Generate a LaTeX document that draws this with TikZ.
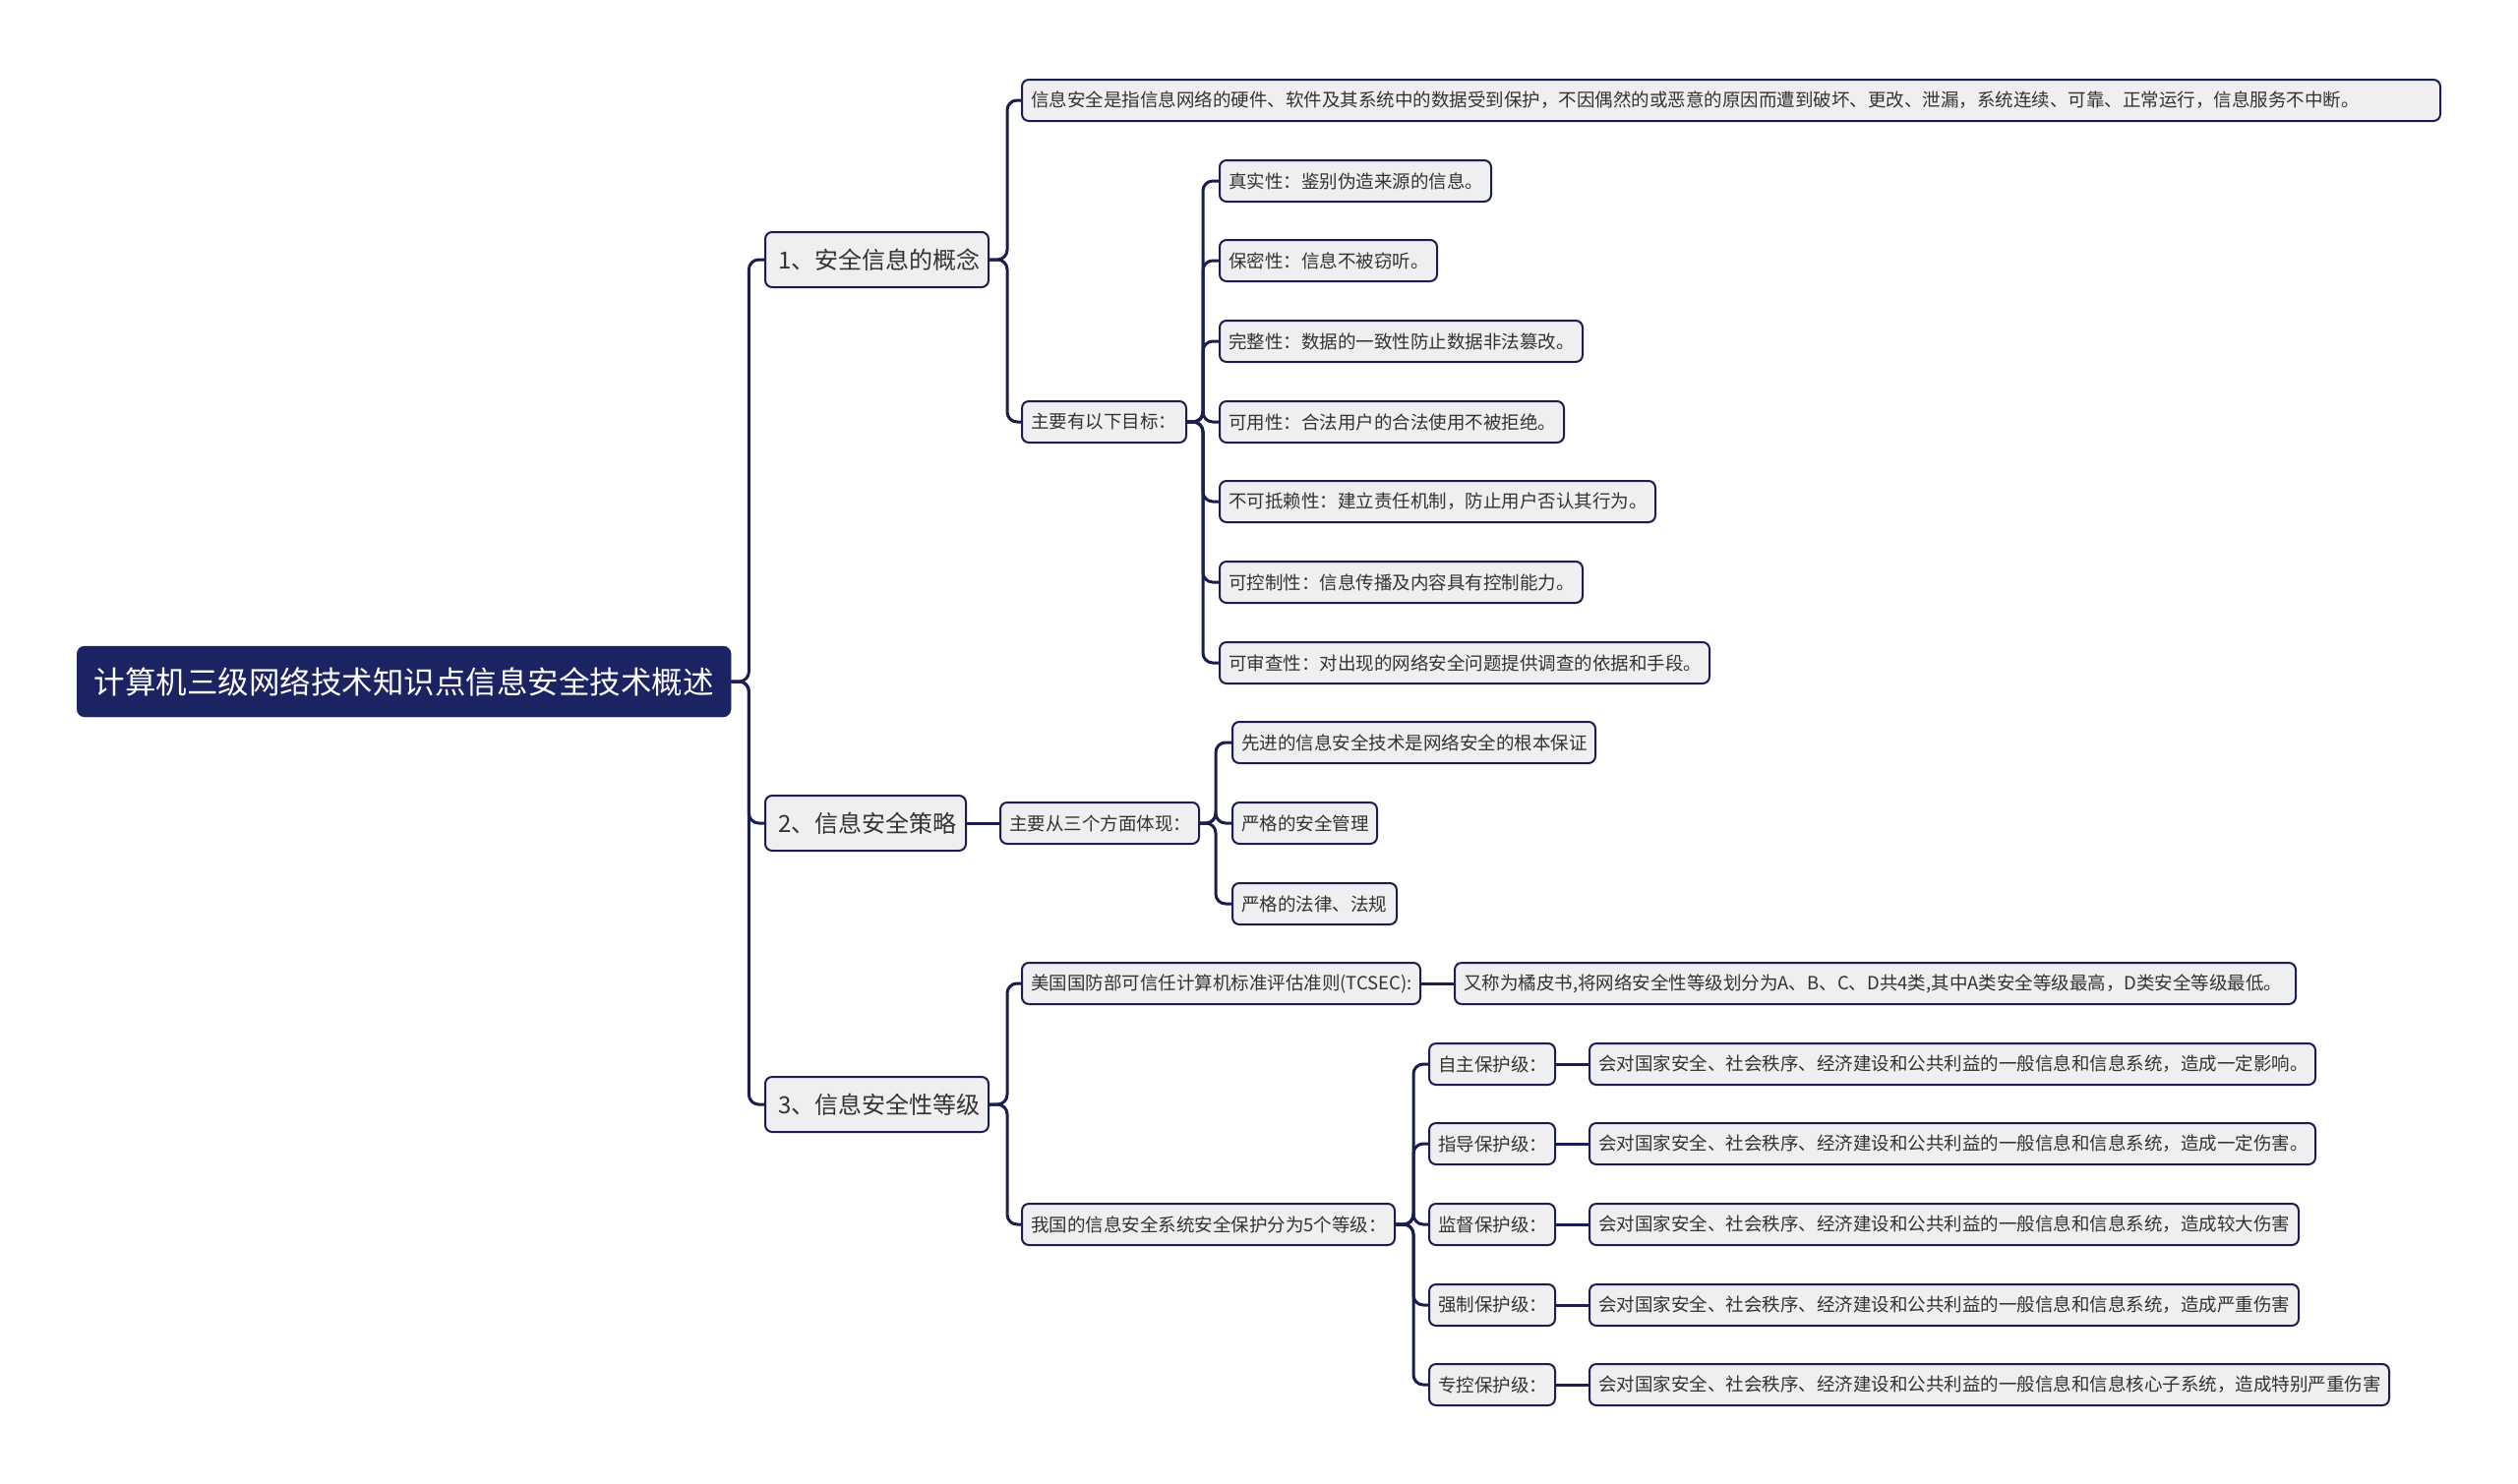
\documentclass[tikz,border=0pt]{standalone}
\usepackage{fontspec}
\setmainfont{Noto Sans CJK SC}
\definecolor{lc}{HTML}{1B1F4F}
\definecolor{rootfill}{HTML}{1C2363}
\definecolor{boxfill}{HTML}{EFEFF1}
\definecolor{txt}{HTML}{333333}
\newcommand\mybx[2]{\makebox[#1pt][l]{#2}}
\tikzset{
  conn/.style={draw=lc, line width=3pt, rounded corners=10pt},
  basebox/.style={draw=lc, line width=2pt, fill=boxfill, rounded corners=7pt, text=txt, anchor=west, inner ysep=0pt},
  leaf/.style={basebox, font=\fontsize{18.5}{20}\selectfont, minimum height=42pt, inner xsep=9pt},
  topic/.style={basebox, font=\fontsize{24}{26}\selectfont, minimum height=56pt, inner xsep=13pt},
  rootbox/.style={fill=rootfill, draw=rootfill, rounded corners=8pt, text=white, font=\fontsize{31.5}{34}\selectfont, minimum width=665pt, minimum height=72pt, anchor=west, inner sep=0pt}
}
\begin{document}
\begin{tikzpicture}[x=1pt,y=-1pt]
\useasboundingbox[fill=white] (0,0) rectangle (2560,1508);

\node[rootbox] (root) at (78,693) {计算机三级网络技术知识点信息安全技术概述};

\node[topic] (t1) at (777,264) {\mybx{201}{1、安全信息的概念}};
\node[topic] (t2) at (777,837) {\mybx{178}{2、信息安全策略}};
\node[topic] (t3) at (777,1123) {\mybx{201}{3、信息安全性等级}};

% branch 1
\node[leaf] (d1) at (1038,102) {\mybx{1424}{信息安全是指信息网络的硬件、软件及其系统中的数据受到保护，不因偶然的或恶意的原因而遭到破坏、更改、泄漏，系统连续、可靠、正常运行，信息服务不中断。}};
\node[leaf] (g0) at (1038,429) {\mybx{149}{主要有以下目标：}};
\node[leaf] (g1) at (1239,184) {\mybx{258}{真实性：鉴别伪造来源的信息。}};
\node[leaf] (g2) at (1239,265) {\mybx{203}{保密性：信息不被窃听。}};
\node[leaf] (g3) at (1239,347) {\mybx{351}{完整性：数据的一致性防止数据非法篡改。}};
\node[leaf] (g4) at (1239,429) {\mybx{332}{可用性：合法用户的合法使用不被拒绝。}};
\node[leaf] (g5) at (1239,510) {\mybx{425}{不可抵赖性：建立责任机制，防止用户否认其行为。}};
\node[leaf] (g6) at (1239,592) {\mybx{351}{可控制性：信息传播及内容具有控制能力。}};
\node[leaf] (g7) at (1239,674) {\mybx{480}{可审查性：对出现的网络安全问题提供调查的依据和手段。}};

% branch 2
\node[leaf] (s0) at (1016,837) {\mybx{184}{主要从三个方面体现：}};
\node[leaf] (s1) at (1252,755) {\mybx{351}{先进的信息安全技术是网络安全的根本保证}};
\node[leaf] (s2) at (1252,837) {\mybx{129}{严格的安全管理}};
\node[leaf] (s3) at (1252,919) {\mybx{149}{严格的法律、法规}};

% branch 3
\node[leaf] (c1) at (1038,1000) {\mybx{387}{美国国防部可信任计算机标准评估准则(TCSEC):}};
\node[leaf] (c1d) at (1478,1000) {\mybx{837}{又称为橘皮书,将网络安全性等级划分为A、B、C、D共4类,其中A类安全等级最高，D类安全等级最低。}};
\node[leaf] (c2) at (1038,1245) {\mybx{361}{我国的信息安全系统安全保护分为5个等级：}};
\node[leaf] (l1) at (1452,1082) {\mybx{110}{自主保护级：}};
\node[leaf] (l2) at (1452,1163) {\mybx{110}{指导保护级：}};
\node[leaf] (l3) at (1452,1245) {\mybx{110}{监督保护级：}};
\node[leaf] (l4) at (1452,1327) {\mybx{110}{强制保护级：}};
\node[leaf] (l5) at (1452,1408) {\mybx{110}{专控保护级：}};
\node[leaf] (e1) at (1615,1082) {\mybx{720}{会对国家安全、社会秩序、经济建设和公共利益的一般信息和信息系统，造成一定影响。}};
\node[leaf] (e2) at (1615,1163) {\mybx{720}{会对国家安全、社会秩序、经济建设和公共利益的一般信息和信息系统，造成一定伤害。}};
\node[leaf] (e3) at (1615,1245) {\mybx{703}{会对国家安全、社会秩序、经济建设和公共利益的一般信息和信息系统，造成较大伤害}};
\node[leaf] (e4) at (1615,1327) {\mybx{703}{会对国家安全、社会秩序、经济建设和公共利益的一般信息和信息系统，造成严重伤害}};
\node[leaf] (e5) at (1615,1408) {\mybx{795}{会对国家安全、社会秩序、经济建设和公共利益的一般信息和信息核心子系统，造成特别严重伤害}};

% connectors
\foreach \c in {t1,t2,t3} \draw[conn] (root.east) -- ++(18,0) |- (\c.west);
\foreach \c in {d1,g0} \draw[conn] (t1.east) -- ++(18,0) |- (\c.west);
\foreach \c in {g1,g2,g3,g4,g5,g6,g7} \draw[conn] (g0.east) -- ++(16,0) |- (\c.west);
\draw[conn] (t2.east) -- (s0.west);
\foreach \c in {s1,s2,s3} \draw[conn] (s0.east) -- ++(16,0) |- (\c.west);
\foreach \c in {c1,c2} \draw[conn] (t3.east) -- ++(18,0) |- (\c.west);
\draw[conn] (c1.east) -- (c1d.west);
\foreach \c in {l1,l2,l3,l4,l5} \draw[conn] (c2.east) -- ++(18,0) |- (\c.west);
\draw[conn] (l1.east) -- (e1.west);
\draw[conn] (l2.east) -- (e2.west);
\draw[conn] (l3.east) -- (e3.west);
\draw[conn] (l4.east) -- (e4.west);
\draw[conn] (l5.east) -- (e5.west);
\end{tikzpicture}
\end{document}
